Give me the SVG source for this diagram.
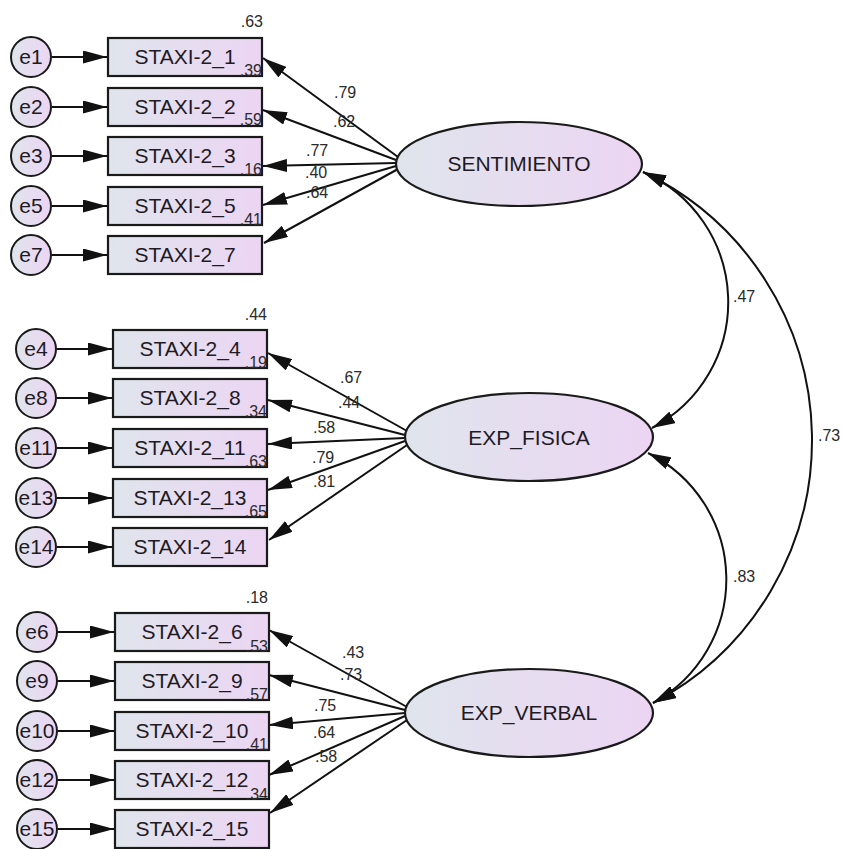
<svg xmlns="http://www.w3.org/2000/svg" width="841" height="849" viewBox="0 0 841 849">
<style>
.box{stroke:#1a1a1a;stroke-width:2.2;fill:url(#grad)}
.err{stroke:#1a1a1a;stroke-width:2;fill:url(#grad)}
.lat{stroke:#1a1a1a;stroke-width:2.2;fill:url(#grad)}
.lbl{font-family:"Liberation Sans",Arial,sans-serif;font-size:21px;fill:#1f1a24;text-anchor:middle}
.num{font-family:"Liberation Sans",Arial,sans-serif;font-size:16px;fill:#2a2a2a}
.r2{font-family:"Liberation Sans",Arial,sans-serif;font-size:16px;fill:#2a2a2a;text-anchor:end}
.ln{stroke:#111;stroke-width:2;fill:none;marker-end:url(#ah)}
.cv{stroke:#111;stroke-width:2;fill:none;marker-start:url(#ah2);marker-end:url(#ah2)}
</style>
<defs>
<linearGradient id="grad" x1="0" y1="0" x2="1" y2="0">
<stop offset="0" stop-color="#dfe5ec"/>
<stop offset="1" stop-color="#ecd5f3"/>
</linearGradient>
<marker id="ah" viewBox="0 0 24 13" refX="24" refY="6.5" markerWidth="24" markerHeight="13" markerUnits="userSpaceOnUse" orient="auto">
<path d="M0,0 L24,6.5 L0,13 z" fill="#111"/>
</marker>
<marker id="ah2" viewBox="0 0 23 13" refX="23" refY="6.5" markerWidth="23" markerHeight="13" markerUnits="userSpaceOnUse" orient="auto-start-reverse">
<path d="M0,0 L23,6.5 L0,13 z" fill="#111"/>
</marker>
</defs>
<rect width="841" height="849" fill="#fff"/>

<g id="connectors">
<path class="ln" d="M52,57 L107,57"/>
<path class="ln" d="M52,107 L107,107"/>
<path class="ln" d="M52,156 L107,156"/>
<path class="ln" d="M52,206 L107,206"/>
<path class="ln" d="M52,255 L107,255"/>
<path class="ln" d="M57,349 L112,349"/>
<path class="ln" d="M57,398 L112,398"/>
<path class="ln" d="M57,448 L112,448"/>
<path class="ln" d="M57,498 L112,498"/>
<path class="ln" d="M57,547 L112,547"/>
<path class="ln" d="M58,632 L114,632"/>
<path class="ln" d="M58,681 L114,681"/>
<path class="ln" d="M58,731 L114,731"/>
<path class="ln" d="M58,780 L114,780"/>
<path class="ln" d="M58,829 L114,829"/>
<path class="ln" d="M398,157 L263,58"/>
<path class="ln" d="M396,160 L263,110"/>
<path class="ln" d="M396,163 L263,166"/>
<path class="ln" d="M396,166 L263,205"/>
<path class="ln" d="M398,169 L264,243"/>
<path class="ln" d="M407,431 L268,353"/>
<path class="ln" d="M405,435 L268,400"/>
<path class="ln" d="M405,438 L268,444"/>
<path class="ln" d="M405,441 L268,490"/>
<path class="ln" d="M407,445 L269,540"/>
<path class="ln" d="M407,707 L269,630"/>
<path class="ln" d="M405,710 L269,675"/>
<path class="ln" d="M405,713 L269,725"/>
<path class="ln" d="M405,716 L269,775"/>
<path class="ln" d="M407,720 L270,813"/>
<path class="cv" d="M643,172 A142,142 0 0 1 652,428"/>
<path class="cv" d="M648,453 A141,141 0 0 1 653,703"/>
<path class="cv" d="M643,172 A297,297 0 0 1 653,703"/>
<text class="num" x="733" y="302">.47</text>
<text class="num" x="818" y="441">.73</text>
<text class="num" x="733" y="582">.83</text>
<text class="num" x="334" y="98">.79</text>
<text class="num" x="333" y="127">.62</text>
<text class="num" x="306" y="156">.77</text>
<text class="num" x="305" y="178">.40</text>
<text class="num" x="306" y="198">.64</text>
<text class="num" x="340" y="383">.67</text>
<text class="num" x="338" y="408">.44</text>
<text class="num" x="313" y="433">.58</text>
<text class="num" x="312" y="463">.79</text>
<text class="num" x="313" y="487">.81</text>
<text class="num" x="342" y="658">.43</text>
<text class="num" x="340" y="680">.73</text>
<text class="num" x="314" y="711">.75</text>
<text class="num" x="313" y="738">.64</text>
<text class="num" x="315" y="762">.58</text>
</g>

<g id="SENTIMIENTO"><ellipse class="lat" cx="519" cy="164" rx="123" ry="42"/><text class="lbl" x="519" y="171">SENTIMIENTO</text></g>
<g id="EXP_FISICA"><ellipse class="lat" cx="529" cy="437" rx="124" ry="44"/><text class="lbl" x="529" y="445">EXP_FISICA</text></g>
<g id="EXP_VERBAL"><ellipse class="lat" cx="529" cy="713" rx="124" ry="44"/><text class="lbl" x="529" y="720">EXP_VERBAL</text></g>

<g id="e1"><circle class="err" cx="31" cy="57" r="20"/><text class="lbl" x="31" y="64">e1</text></g>
<g id="e2"><circle class="err" cx="31" cy="107" r="20"/><text class="lbl" x="31" y="114">e2</text></g>
<g id="e3"><circle class="err" cx="31" cy="156" r="20"/><text class="lbl" x="31" y="163">e3</text></g>
<g id="e5"><circle class="err" cx="31" cy="206" r="20"/><text class="lbl" x="31" y="213">e5</text></g>
<g id="e7"><circle class="err" cx="31" cy="255" r="20"/><text class="lbl" x="31" y="262">e7</text></g>
<g id="e4"><circle class="err" cx="36" cy="349" r="20"/><text class="lbl" x="36" y="356">e4</text></g>
<g id="e8"><circle class="err" cx="36" cy="398" r="20"/><text class="lbl" x="36" y="405">e8</text></g>
<g id="e11"><circle class="err" cx="36" cy="448" r="20"/><text class="lbl" x="36" y="455">e11</text></g>
<g id="e13"><circle class="err" cx="36" cy="498" r="20"/><text class="lbl" x="36" y="505">e13</text></g>
<g id="e14"><circle class="err" cx="36" cy="547" r="20"/><text class="lbl" x="36" y="554">e14</text></g>
<g id="e6"><circle class="err" cx="37" cy="632" r="20"/><text class="lbl" x="37" y="639">e6</text></g>
<g id="e9"><circle class="err" cx="37" cy="681" r="20"/><text class="lbl" x="37" y="688">e9</text></g>
<g id="e10"><circle class="err" cx="37" cy="731" r="20"/><text class="lbl" x="37" y="738">e10</text></g>
<g id="e12"><circle class="err" cx="37" cy="780" r="20"/><text class="lbl" x="37" y="787">e12</text></g>
<g id="e15"><circle class="err" cx="37" cy="829" r="20"/><text class="lbl" x="37" y="836">e15</text></g>

<g id="STAXI-2_1"><rect class="box" x="108" y="38" width="154" height="38"/><text class="lbl" x="185" y="64">STAXI-2_1</text></g>
<g id="STAXI-2_2"><rect class="box" x="108" y="88" width="154" height="38"/><text class="lbl" x="185" y="114">STAXI-2_2</text></g>
<g id="STAXI-2_3"><rect class="box" x="108" y="137" width="154" height="38"/><text class="lbl" x="185" y="163">STAXI-2_3</text></g>
<g id="STAXI-2_5"><rect class="box" x="108" y="187" width="154" height="38"/><text class="lbl" x="185" y="213">STAXI-2_5</text></g>
<g id="STAXI-2_7"><rect class="box" x="108" y="236" width="154" height="38"/><text class="lbl" x="185" y="262">STAXI-2_7</text></g>
<g id="STAXI-2_4"><rect class="box" x="113" y="330" width="154" height="38"/><text class="lbl" x="190" y="356">STAXI-2_4</text></g>
<g id="STAXI-2_8"><rect class="box" x="113" y="379" width="154" height="38"/><text class="lbl" x="190" y="405">STAXI-2_8</text></g>
<g id="STAXI-2_11"><rect class="box" x="113" y="429" width="154" height="38"/><text class="lbl" x="190" y="455">STAXI-2_11</text></g>
<g id="STAXI-2_13"><rect class="box" x="113" y="479" width="154" height="38"/><text class="lbl" x="190" y="505">STAXI-2_13</text></g>
<g id="STAXI-2_14"><rect class="box" x="113" y="528" width="154" height="38"/><text class="lbl" x="190" y="554">STAXI-2_14</text></g>
<g id="STAXI-2_6"><rect class="box" x="115" y="613" width="154" height="38"/><text class="lbl" x="192" y="639">STAXI-2_6</text></g>
<g id="STAXI-2_9"><rect class="box" x="115" y="662" width="154" height="38"/><text class="lbl" x="192" y="688">STAXI-2_9</text></g>
<g id="STAXI-2_10"><rect class="box" x="115" y="712" width="154" height="38"/><text class="lbl" x="192" y="738">STAXI-2_10</text></g>
<g id="STAXI-2_12"><rect class="box" x="115" y="761" width="154" height="38"/><text class="lbl" x="192" y="787">STAXI-2_12</text></g>
<g id="STAXI-2_15"><rect class="box" x="115" y="810" width="154" height="38"/><text class="lbl" x="192" y="836">STAXI-2_15</text></g>

<g id="r2">
<text class="r2" x="263" y="27">.63</text>
<text class="r2" x="262" y="76">.39</text>
<text class="r2" x="262" y="125">.59</text>
<text class="r2" x="262" y="175">.16</text>
<text class="r2" x="262" y="225">.41</text>
<text class="r2" x="267" y="320">.44</text>
<text class="r2" x="267" y="368">.19</text>
<text class="r2" x="267" y="417">.34</text>
<text class="r2" x="267" y="467">.63</text>
<text class="r2" x="267" y="517">.65</text>
<text class="r2" x="268" y="603">.18</text>
<text class="r2" x="268" y="652">.53</text>
<text class="r2" x="268" y="700">.57</text>
<text class="r2" x="268" y="750">.41</text>
<text class="r2" x="268" y="800">.34</text>
</g>
</svg>
